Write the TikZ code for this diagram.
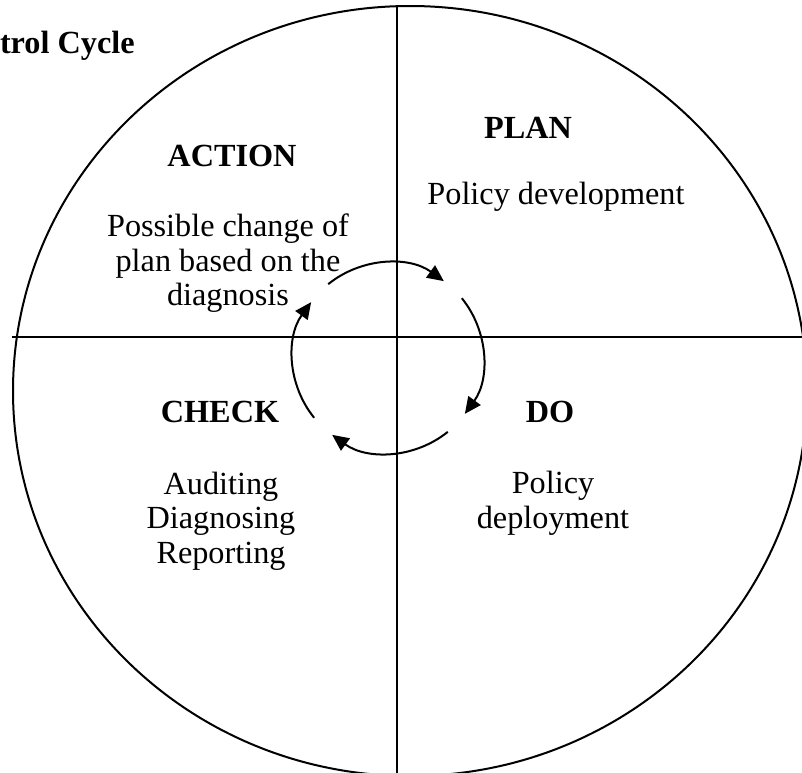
\documentclass[tikz,border=0pt]{standalone}
\usepackage{fontspec}
\setmainfont{Liberation Serif}
\usetikzlibrary{arrows.meta}
\begin{document}
\begin{tikzpicture}[x=0.4pt,y=0.4pt,line width=0.8pt,
    every node/.style={font=\fontsize{12.9}{13.8}\selectfont,inner sep=0pt},
    head/.style={font=\fontsize{12.9}{13.8}\selectfont\bfseries},
    body/.style={align=center},
    turn/.style={-{Triangle[length=6.6pt,width=6pt]}}]
  \useasboundingbox (0,0) rectangle (802,-773);
  \clip (0,0) rectangle (802,-773);

  % outer wheel and cross
  \draw (410,-391) ellipse [x radius=397,y radius=385];
  \coordinate (top) at (397,-7);
  \coordinate (bot) at (397,-780);
  \coordinate (lft) at (12,-337);
  \coordinate (rgt) at (805,-337);
  \draw (top) -- (bot);
  \draw (lft) -- (rgt);

  % title
  \node [head,anchor=base west] (title) at (-1,-53) {trol Cycle};

  % quarters (multi-line texts sit on their last baseline)
  \node [head,anchor=base] (act) at (232,-167) {ACTION};
  \node [body,anchor=base] (acttxt) at (228,-306) {Possible change of\\plan based on the\\diagnosis};
  \node [head,anchor=base] (plan) at (528,-139) {PLAN};
  \node [anchor=base] (plantxt) at (556,-204) {Policy development};
  \node [head,anchor=base] (chk) at (220,-422) {CHECK};
  \node [body,anchor=base] (chktxt) at (221,-563) {Auditing\\Diagnosing\\Reporting};
  \node [head,anchor=base] (do) at (550,-422) {DO};
  \node [body,anchor=base] (dotxt) at (553,-528) {Policy\\deployment};

  % inner cycle
  \coordinate (hub) at (388,-358);
  \foreach \a in {129,39,-51,-141}
    \draw [turn] ([shift={(\a:95)}]hub) arc [start angle=\a,end angle=\a-75,radius=95];
\end{tikzpicture}
\end{document}
